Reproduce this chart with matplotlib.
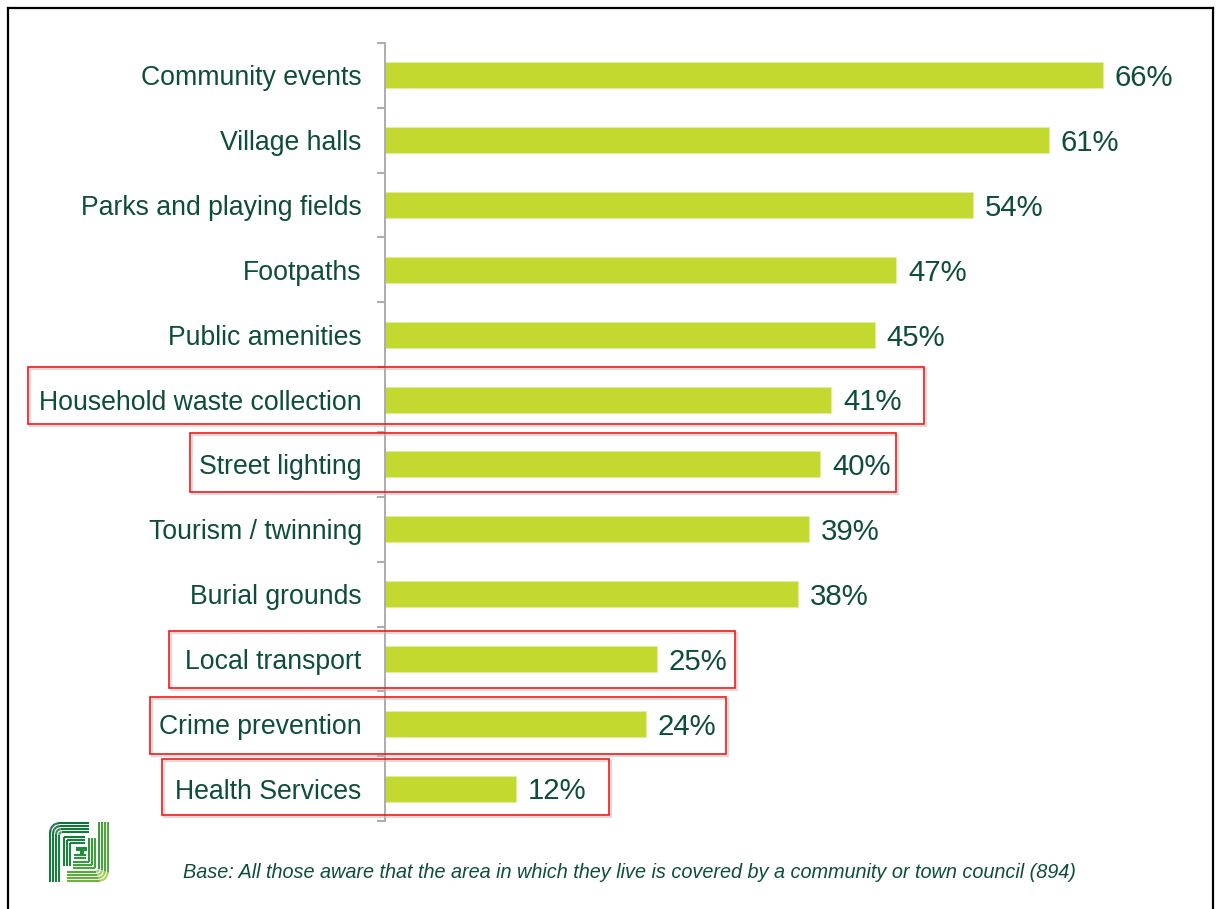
import matplotlib.pyplot as plt
import numpy as np
from matplotlib.patches import Rectangle
from matplotlib.lines import Line2D
from matplotlib.collections import LineCollection
from matplotlib.colors import LinearSegmentedColormap
from matplotlib import transforms

plt.rcParams['font.family'] = ['Liberation Sans', 'DejaVu Sans']

tjenester = [
    "Community events",
    "Village halls",
    "Parks and playing fields",
    "Footpaths",
    "Public amenities",
    "Household waste collection",
    "Street lighting",
    "Tourism / twinning",
    "Burial grounds",
    "Local transport",
    "Crime prevention",
    "Health Services",
]
prosent = [66, 61, 54, 47, 45, 41, 40, 39, 38, 25, 24, 12]

# markerte rader: (navn, venstre x, høyre x, topp, bunn) i aksekoordinater
markert = [
    ("Household waste collection", -32.8, 49.5, 4.49, 5.37),
    ("Street lighting", -17.9, 47.0, 5.52, 6.42),
    ("Local transport", -19.9, 32.2, 8.57, 9.45),
    ("Crime prevention", -21.6, 31.3, 9.58, 10.46),
    ("Health Services", -20.5, 20.6, 10.54, 11.40),
]

tekstfarge = "#0E4D3C"
stolpefarge = "#C3D92F"

fig = plt.figure(figsize=(12.2, 9.09), dpi=100)
ax = fig.add_axes([0.3156, 0.0968, 0.651, 0.8559])

y = np.arange(len(tjenester))
ax.barh(y, prosent, height=0.4, color=stolpefarge, edgecolor="#E4EEA0", linewidth=0.6)
ax.set_xlim(0, 73)
ax.set_ylim(len(tjenester) - 0.5, -0.5)

for yi, v in zip(y, prosent):
    ax.annotate(f"{v}%", (v, yi), xytext=(8.5, -2), textcoords="offset points",
                va="center", ha="left", fontsize=21.2, color=tekstfarge)

# kategorinavn på mindre merker, skillestreker på hovedmerker
ax.set_yticks(np.arange(-0.5, len(tjenester)), labels=[])
ax.set_yticks(y, labels=tjenester, minor=True)
ax.tick_params(axis="y", which="major", length=6, width=1.3, color="#A6A6A6", direction="out")
ax.tick_params(axis="y", which="minor", length=0, pad=16.8, labelsize=19.2, labelcolor=tekstfarge)
ax.set_xticks([])
for s in ["top", "right", "bottom"]:
    ax.spines[s].set_visible(False)
ax.spines["left"].set_color("#A6A6A6")
ax.spines["left"].set_linewidth(1.3)

# røde rammer rundt utvalgte rader, med svak skygge
skygge = transforms.offset_copy(ax.transData, fig=fig, x=2, y=-2, units="dots")
for navn, x0, x1, y0, y1 in markert:
    ax.add_patch(Rectangle((x0, y0), x1 - x0, y1 - y0, fill=False, edgecolor="#BBBBBB",
                           linewidth=1.6, alpha=0.5, transform=skygge, clip_on=False, zorder=4))
    ax.add_patch(Rectangle((x0, y0), x1 - x0, y1 - y0, fill=False, edgecolor="#F21818",
                           linewidth=1.2, clip_on=False, zorder=5))

fig.text(0.516, 0.0405, "Base: All those aware that the area in which they live is covered by a "
         "community or town council (894)", ha="center", va="center", fontsize=14.3,
         style="italic", color=tekstfarge)

# ramme rundt lysbildet (nederste kant utenfor bildet)
W, H = 1220, 909
for xs, ys in [([8, 8], [920, 8]), ([8, 1213], [8, 8]), ([1213, 1213], [8, 920])]:
    fig.add_artist(Line2D([x / W for x in xs], [1 - v / H for v in ys],
                          color="black", linewidth=1.6, transform=fig.transFigure))

# logo: F og J tegnet som nestede striper i grønn overgang
logo = fig.add_axes([49 / W, 1 - 882 / H, 60 / W, 60 / H])
logo.set_xlim(0, 60)
logo.set_ylim(60, 0)
logo.axis("off")


def bue(cx, cy, r, a0, a1, n=12):
    t = np.radians(np.linspace(a0, a1, n))
    return np.column_stack([cx + r * np.cos(t), cy + r * np.sin(t)])


baner = []
for i in range(4):
    d = 1.2 + 3 * i
    r = max(9 - 2.2 * i, 1.5)
    # F: stamme og topp
    baner.append(np.vstack([[[d, 60]], bue(d + r, d + r, r, 180, 270), [[40, d]]]))
    # J: stamme og bunn
    e = 58.8 - 3 * i
    baner.append(np.vstack([[[e, 0]], bue(e - r, e - r, r, 0, 90), [[18, e]]]))
for i in range(3):
    d = 14.5 + 3 * i
    # F: midtarm
    baner.append(np.array([[d, 44], [d, d], [36, d]]))
    # J: indre krok
    e = 45.5 - 3 * i
    baner.append(np.array([[e, 16], [e, e], [24, e]]))
# I-en i midten
for yy in (25.5, 28):
    baner.append(np.array([[27, yy], [38, yy]]))
for yy in (33, 35.5):
    baner.append(np.array([[25, yy], [37, yy]]))
baner.append(np.array([[31.5, 28], [31.5, 33]]))
baner.append(np.array([[33.5, 28], [33.5, 33]]))

segs, farger = [], []
cmap = LinearSegmentedColormap.from_list("g", ["#0A5A38", "#1E8B3F", "#B3D63C"])
for b in baner:
    for p, q in zip(b[:-1], b[1:]):
        segs.append([p, q])
        farger.append(cmap(np.clip((p[0] + q[0] + p[1] + q[1]) / 4 / 60, 0, 1)))
logo.add_collection(LineCollection(segs, colors=farger, linewidths=1.5, capstyle="butt"))

fig.savefig("out.png", dpi=100)
